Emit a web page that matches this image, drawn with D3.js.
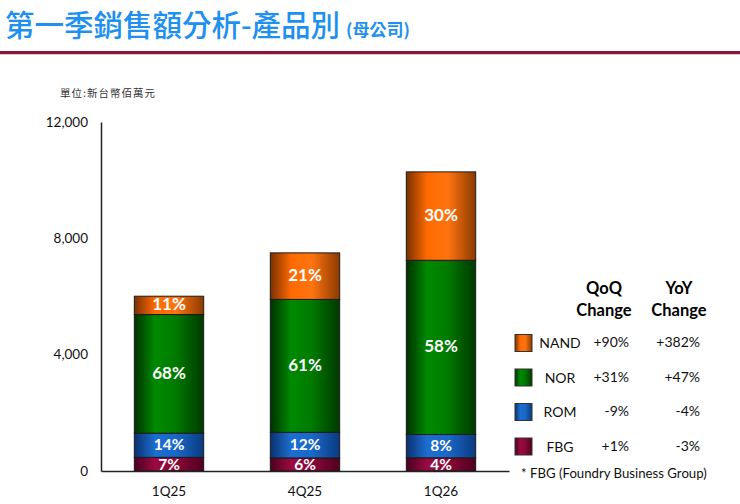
<!DOCTYPE html>
<html><head><meta charset="utf-8">
<script src="https://cdn.jsdelivr.net/npm/d3@7"></script>
<style>body{margin:0;background:#fff}svg{display:block}</style>
</head><body>
<svg id="c" width="740" height="504"></svg>
<script>
const categories = ["1Q25", "4Q25", "1Q26"];
const products = ["FBG", "ROM", "NOR", "NAND"];
const fbg  = [470, 450, 455];
const rom  = [830, 880, 800];
const nor  = [4080, 4570, 5990];
const nand = [630, 1600, 3040];
const shareFBG  = ["7%", "6%", "4%"];
const shareROM  = ["14%", "12%", "8%"];
const shareNOR  = ["68%", "61%", "58%"];
const shareNAND = ["11%", "21%", "30%"];
const yTicks = [0, 4000, 8000, 12000];
const legendOrder = ["NAND", "NOR", "ROM", "FBG"];
const qoq = ["+90%", "+31%", "-9%", "+1%"];
const yoy = ["+382%", "+47%", "-4%", "-3%"];

const svg = d3.select("#c");
const defs = svg.append("defs");
const colors = {
  NAND: ["#7a3000", "#ff6a00", "#ff7410", "#8a3a00"],
  NOR:  ["#003000", "#008a00", "#007a00", "#003800"],
  ROM:  ["#0a3070", "#1c6ed0", "#1a68c8", "#0a3a80"],
  FBG:  ["#4a0020", "#9a0a40", "#8a0838", "#50001f"]
};
Object.entries(colors).forEach(([k, c]) => {
  const g = defs.append("linearGradient").attr("id", "g" + k)
    .attr("x1", "0").attr("x2", "1").attr("y1", "0").attr("y2", "0");
  g.append("stop").attr("offset", "0").attr("stop-color", c[0]);
  g.append("stop").attr("offset", "0.3").attr("stop-color", c[1]);
  g.append("stop").attr("offset", "0.6").attr("stop-color", c[2]);
  g.append("stop").attr("offset", "1").attr("stop-color", c[3]);
});

// Title
const t = svg.append("text").attr("x", 5).attr("y", 36)
  .attr("fill", "#1e90f0").attr("font-family", "'Noto Sans CJK TC'");
t.append("tspan").attr("font-size", 29.5).attr("font-weight", "500").text("第一季銷售額分析-產品別");
t.append("tspan").attr("font-size", 17).attr("font-weight", "bold").attr("dx", 6).text("(母公司)");
svg.append("rect").attr("x", 0).attr("y", 51).attr("width", 740).attr("height", 3).attr("fill", "#8b1538");
svg.append("rect").attr("x", 0).attr("y", 54).attr("width", 740).attr("height", 1).attr("fill", "#d8c8cc");

svg.append("text").attr("x", 60).attr("y", 97).attr("font-size", 10.5)
  .attr("font-family", "'Noto Sans CJK TC'").attr("fill", "#333").attr("letter-spacing", 1)
  .text("單位:新台幣佰萬元");

const x = d3.scaleBand().domain(categories).range([101, 509]).paddingInner(0.49).paddingOuter(0.245);
const y = d3.scaleLinear().domain([0, 12000]).range([471, 122]);

const data = categories.map((c, i) => ({cat: c, FBG: fbg[i], ROM: rom[i], NOR: nor[i], NAND: nand[i]}));
const shares = {FBG: shareFBG, ROM: shareROM, NOR: shareNOR, NAND: shareNAND};
const stack = d3.stack().keys(products)(data);

const layers = svg.append("g").selectAll("g").data(stack).join("g")
  .attr("fill", d => "url(#g" + d.key + ")");
layers.selectAll("rect").data(d => d.map(v => Object.assign(v, {key: d.key}))).join("rect")
  .attr("x", d => x(d.data.cat)).attr("width", x.bandwidth())
  .attr("y", d => y(d[1])).attr("height", d => y(d[0]) - y(d[1]))
  .attr("stroke", "#1a1a1a").attr("stroke-width", 1);

stack.forEach(s => {
  s.forEach((d, i) => {
    const small = s.key === "FBG" || s.key === "ROM";
    svg.append("text").attr("x", x(d.data.cat) + x.bandwidth() / 2)
      .attr("y", (y(d[0]) + y(d[1])) / 2 + (s.key === "FBG" ? 1.5 : 0.5))
      .attr("dominant-baseline", "middle").attr("text-anchor", "middle")
      .attr("fill", "#fff").attr("font-family", "Lato, 'Open Sans', sans-serif")
      .attr("font-weight", "bold").attr("font-size", small ? 15.5 : 17).text(shares[s.key][i]);
  });
});

// Axes
const yAxis = svg.append("g").attr("transform", "translate(101,0)")
  .call(d3.axisLeft(y).tickValues(yTicks).tickFormat(d3.format(",")).tickSize(0).tickPadding(13));
yAxis.select(".domain").attr("stroke", "#222").attr("stroke-width", 1.5);
yAxis.selectAll("text").attr("font-family", "Lato, sans-serif").attr("font-size", 13.5).attr("fill", "#111");

const xAxis = svg.append("g").attr("transform", "translate(0,471)")
  .call(d3.axisBottom(x).tickSize(0).tickPadding(15));
xAxis.select(".domain").attr("stroke", "#222").attr("stroke-width", 1.5);
xAxis.selectAll("text").attr("font-family", "Lato, sans-serif").attr("font-size", 13.5).attr("fill", "#111");

// Legend table
const hdrFont = "Lato, 'Open Sans', sans-serif";
[["QoQ", "Change", 604], ["YoY", "Change", 679]].forEach(h => {
  svg.append("text").attr("x", h[2]).attr("y", 294).attr("text-anchor", "middle")
    .attr("font-family", hdrFont).attr("font-weight", "bold").attr("font-size", 16.5).text(h[0]);
  svg.append("text").attr("x", h[2]).attr("y", 316).attr("text-anchor", "middle")
    .attr("font-family", hdrFont).attr("font-weight", "bold").attr("font-size", 16.5).text(h[1]);
});
legendOrder.forEach((k, i) => {
  const cy = 343 + i * 34.5;
  svg.append("rect").attr("x", 515).attr("y", cy - 8.5).attr("width", 17).attr("height", 17)
    .attr("fill", "url(#g" + k + ")").attr("stroke", "#333").attr("stroke-width", 1);
  svg.append("text").attr("x", 560).attr("y", cy + 5).attr("text-anchor", "middle")
    .attr("font-family", hdrFont).attr("font-size", 14).attr("fill", "#111").text(k);
  svg.append("text").attr("x", 629).attr("y", cy + 4).attr("text-anchor", "end")
    .attr("font-family", hdrFont).attr("font-size", 14).attr("fill", "#111").text(qoq[i]);
  svg.append("text").attr("x", 700).attr("y", cy + 4).attr("text-anchor", "end")
    .attr("font-family", hdrFont).attr("font-size", 14).attr("fill", "#111").text(yoy[i]);
});
svg.append("text").attr("x", 521).attr("y", 478).attr("font-family", hdrFont)
  .attr("font-size", 13.2).attr("fill", "#111").text("* FBG (Foundry Business Group)");
</script>
</body></html>
